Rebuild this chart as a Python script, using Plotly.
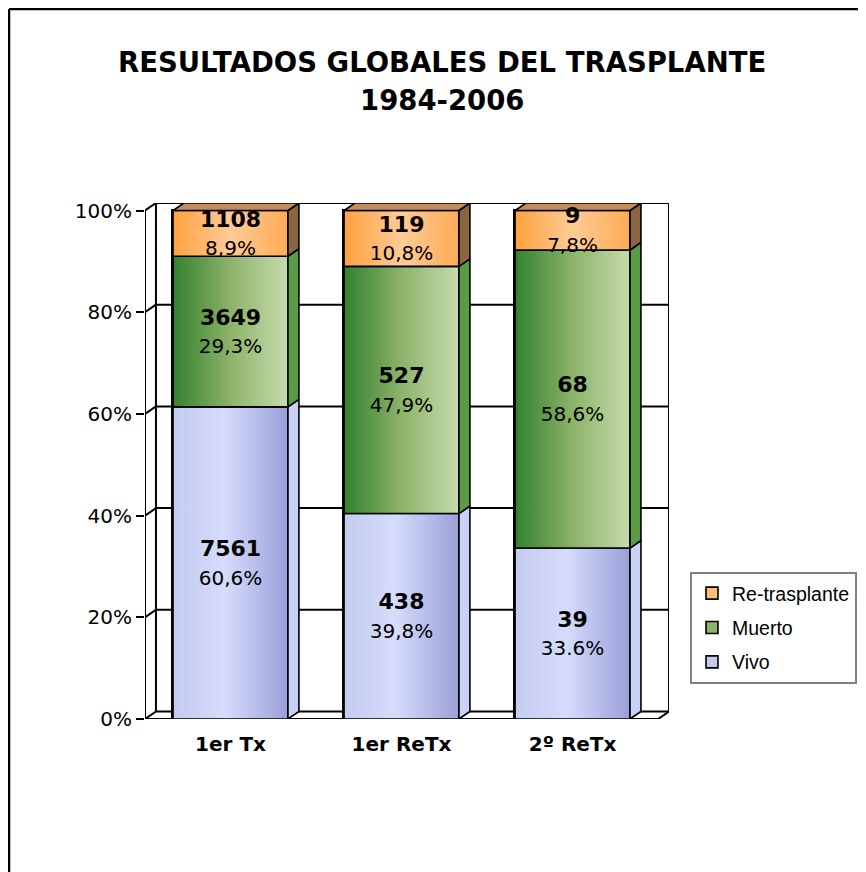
import plotly.graph_objects as go

# ---------------- data ----------------
categories = ["1er Tx", "1er ReTx", "2º ReTx"]
series_names = ["Vivo", "Muerto", "Re-trasplante"]
vivo = [7561, 438, 39]
muerto = [3649, 527, 68]
retx = [1108, 119, 9]
vivo_pct = ["60,6%", "39,8%", "33.6%"]
muerto_pct = ["29,3%", "47,9%", "58,6%"]
retx_pct = ["8,9%", "10,8%", "7,8%"]
y_tickvals = [0, 0.2, 0.4, 0.6, 0.8, 1.0]
y_ticktext = ["0%", "20%", "40%", "60%", "80%", "100%"]
title_lines = ["RESULTADOS GLOBALES DEL TRASPLANTE", "1984-2006"]

# ---------------- style ----------------
OFF = 8                           # page body margin
W, H = 866 - OFF, 872 - OFF
ML, MT = 145 - OFF, 203 - OFF
PW, PH = 524, 516
MR, MB = W - ML - PW, H - MT - PH
BAR_W = 0.672
DX, DY = 0.064, 0.0148          # 3-D depth offset in data units
LABEL_SHIFT = 0.004
XR = [-0.5, 2.5 + DX]
YR = [0, 1 + DY]
front_col = {"Vivo": "#c4cbf1", "Muerto": "#8db36a", "Re-trasplante": "#ffbb78"}
front_grad = {
    "Vivo": [[0, "#c3cbef"], [0.45, "#d5dcfc"], [1, "#9aa0d8"]],
    "Muerto": [[0, "#33802f"], [0.5, "#8db369"], [1, "#c6dbae"]],
    "Re-trasplante": [[0, "#ffa13f"], [0.5, "#ffcb96"], [1, "#ffab55"]],
}
side_col = {"Vivo": "#c9d1f7", "Muerto": "#5a9c45", "Re-trasplante": "#8b6440"}
legend_rank = {"Vivo": 3, "Muerto": 2, "Re-trasplante": 1}
top_col = "#c38c58"
EDGE = "#000000"


def px_x(p):
    return (p - OFF - ML) / PW


def px_y(p):
    return (H - MB - (p - OFF)) / PH


counts = [vivo, muerto, retx]
pcts = [vivo_pct, muerto_pct, retx_pct]
totals = [sum(c[j] for c in counts) for j in range(len(categories))]
fracs = [[c[j] / totals[j] for j in range(len(categories))] for c in counts]
xs = list(range(len(categories)))

fig = go.Figure()

# front faces (bars)
for name, fr in zip(series_names, fracs):
    fig.add_trace(go.Bar(
        x=xs, y=fr, width=BAR_W, name=name,
        marker=dict(color=front_col[name], line=dict(color=EDGE, width=1.6)),
        hoverinfo="skip", legendgroup=name, legendrank=legend_rank[name],
    ))

# gradient shading of the front faces, side faces
base = [0.0] * len(categories)
for name, fr in zip(series_names, fracs):
    sx, sy = [], []
    for j in xs:
        y0, y1 = base[j], base[j] + fr[j]
        xl, xr = j - BAR_W / 2, j + BAR_W / 2
        fig.add_trace(go.Scatter(
            x=[xl, xr, xr, xl, xl], y=[y0, y0, y1, y1, y0], mode="lines",
            fill="toself",
            fillgradient=dict(type="horizontal", colorscale=front_grad[name]),
            line=dict(color=EDGE, width=1.6), showlegend=False, hoverinfo="skip",
        ))
        sx += [xr, xr + DX, xr + DX, xr, xr, None]
        sy += [y0, y0 + DY, y1 + DY, y1, y0, None]
        base[j] = y1
    fig.add_trace(go.Scatter(
        x=sx, y=sy, mode="lines", fill="toself", fillcolor=side_col[name],
        line=dict(color=EDGE, width=1.6), showlegend=False, hoverinfo="skip",
    ))

# top faces
tx, ty = [], []
for j in xs:
    xl, xr = j - BAR_W / 2, j + BAR_W / 2
    tx += [xl, xl + DX, xr + DX, xr, xl, None]
    ty += [base[j], base[j] + DY, base[j] + DY, base[j], base[j], None]
fig.add_trace(go.Scatter(
    x=tx, y=ty, mode="lines", fill="toself", fillcolor=top_col,
    line=dict(color=EDGE, width=1.6), showlegend=False, hoverinfo="skip",
))

# labels
base = [0.0] * len(categories)
lx, ly, lt = [], [], []
for c, p, fr in zip(counts, pcts, fracs):
    for j in xs:
        lx.append(j)
        ly.append(base[j] + fr[j] / 2 - LABEL_SHIFT)
        lt.append(f"<b>{c[j]}</b><br><span style='font-size:20px'>{p[j]}</span>")
        base[j] += fr[j]
fig.add_trace(go.Scatter(
    x=lx, y=ly, text=lt, mode="text", textposition="middle center",
    textfont=dict(family="DejaVu Sans, Verdana", size=22, color="#000000"),
    showlegend=False, hoverinfo="skip",
))

# walls / gridlines
shapes = []
line = dict(color=EDGE, width=2)
for v in y_tickvals:
    shapes.append(dict(type="line", xref="x", yref="y", x0=-0.5 + DX, x1=2.5 + DX,
                       y0=v + DY, y1=v + DY, line=line, layer="below"))
    shapes.append(dict(type="line", xref="x", yref="y", x0=-0.5, x1=-0.5 + DX,
                       y0=v, y1=v + DY, line=line, layer="below"))
shapes.append(dict(type="line", xref="x", yref="y", x0=-0.5 + DX, x1=-0.5 + DX,
                   y0=DY, y1=1 + DY, line=line, layer="below"))
shapes.append(dict(type="line", xref="x", yref="y", x0=2.5 + DX, x1=2.5 + DX,
                   y0=DY, y1=1 + DY, line=line, layer="below"))
# front axis lines
shapes.append(dict(type="line", xref="x", yref="y", x0=-0.5, x1=-0.5,
                   y0=0, y1=1, line=line, layer="below"))
shapes.append(dict(type="line", xref="x", yref="y", x0=-0.5, x1=2.5,
                   y0=0, y1=0, line=line, layer="below"))
shapes.append(dict(type="line", xref="x", yref="y", x0=2.5, x1=2.5 + DX,
                   y0=0, y1=DY, line=line, layer="below"))
# category boundary ticks
for b in [-0.5, 0.5, 1.5, 2.5]:
    shapes.append(dict(type="line", xref="x", yref="y", ysizemode="pixel", yanchor=0,
                       x0=b, x1=b, y0=0, y1=-8, line=line))
# chart border (top + left)
shapes.append(dict(type="line", xref="paper", yref="paper", x0=px_x(9), x1=px_x(W + 40),
                   y0=px_y(9), y1=px_y(9), line=dict(color="#000000", width=2.5)))
shapes.append(dict(type="line", xref="paper", yref="paper", x0=px_x(9), x1=px_x(9),
                   y0=px_y(9), y1=px_y(H + 40), line=dict(color="#000000", width=2.5)))

annotations = [
    dict(text=f"<b>{title_lines[0]}</b>", xref="paper", yref="paper",
         x=px_x(442), y=px_y(62), showarrow=False, xanchor="center", yanchor="middle",
         font=dict(family="DejaVu Sans, Verdana", size=27.5, color="#000000")),
    dict(text=f"<b>{title_lines[1]}</b>", xref="paper", yref="paper",
         x=px_x(442), y=px_y(100), showarrow=False, xanchor="center", yanchor="middle",
         font=dict(family="DejaVu Sans, Verdana", size=27.5, color="#000000")),
]

fig.update_layout(
    width=W, height=H,
    margin=dict(l=ML, r=MR, t=MT, b=MB, pad=0, autoexpand=False),
    paper_bgcolor="white", plot_bgcolor="white",
    barmode="stack", bargap=0,
    shapes=shapes, annotations=annotations,
    showlegend=True,
    legend=dict(
        x=px_x(690), y=px_y(572), xanchor="left", yanchor="top",
        traceorder="grouped", tracegroupgap=6,
        bordercolor="#808080", borderwidth=2, bgcolor="white",
        font=dict(family="Arial, Liberation Sans", size=19.5, color="#000000"),
        itemwidth=30,
    ),
    xaxis=dict(
        range=XR, showgrid=False, zeroline=False, showline=False,
        tickmode="array", tickvals=xs, ticktext=[f"<b>{c}</b>" for c in categories],
        ticks="", tickfont=dict(family="DejaVu Sans, Verdana", size=20, color="#000000"),
        ticklabelstandoff=11, fixedrange=True, automargin=False,
    ),
    yaxis=dict(
        range=YR, showgrid=False, zeroline=False, showline=False,
        tickmode="array", tickvals=y_tickvals, ticktext=y_ticktext,
        ticks="outside", ticklen=8, tickwidth=2, tickcolor="#000000",
        tickfont=dict(family="DejaVu Sans, Verdana", size=20, color="#000000"),
        fixedrange=True, automargin=False,
    ),
)

fig.write_html("out.html")
